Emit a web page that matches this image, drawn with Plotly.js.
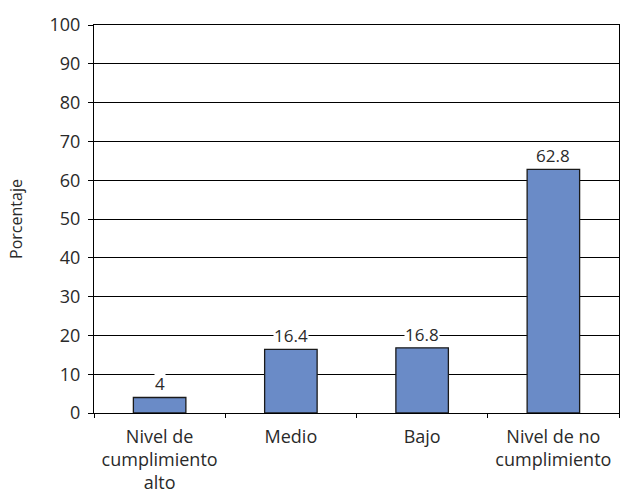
<!DOCTYPE html>
<html><head><meta charset="utf-8">
<script src="https://cdn.plot.ly/plotly-3.0.1.min.js"></script>
<style>html,body{margin:0;padding:0;background:#fff}</style>
</head><body><div id="chart" style="width:620px;height:497px"></div>
<script>
const categories = ["Nivel de<br>cumplimiento<br>alto", "Medio", "Bajo", "Nivel de no<br>cumplimiento"];
const values = [4, 16.4, 16.8, 62.8];
const labels = ["4", "16.4", "16.8", "62.8"];
const yTicks = [0,10,20,30,40,50,60,70,80,90,100];

const fontFam = "'Open Sans', sans-serif";
const txtColor = "#2a2a2a";

const trace = {
  type: "bar", x: categories, y: values,
  marker: {color: "#6a8bc7", line: {color: "#1a1a1a", width: 1.3}},
  width: 0.4, hoverinfo: "none"
};

const annotations = values.map((v, i) => ({
  x: categories[i], y: v, text: labels[i], showarrow: false,
  yanchor: "bottom", yshift: 1, bgcolor: "#ffffff", borderpad: 0,
  font: {family: fontFam, size: 17, color: txtColor}
}));

const layout = {
  width: 620, height: 497,
  margin: {l: 94, r: 1, t: 25, b: 84},
  paper_bgcolor: "#fff", plot_bgcolor: "#fff",
  showlegend: false,
  font: {family: fontFam, size: 17, color: txtColor},
  xaxis: {
    tickson: "boundaries", ticks: "outside", ticklen: 4, tickcolor: "#000",
    showline: true, linecolor: "#000", linewidth: 1, mirror: true,
    showgrid: false, fixedrange: true, ticklabelstandoff: 7,
    tickfont: {family: fontFam, size: 18, color: txtColor}
  },
  yaxis: {
    range: [0, 100], tickvals: yTicks, ticks: "outside", ticklen: 5, tickcolor: "#000",
    showline: true, linecolor: "#000", linewidth: 1, mirror: true,
    showgrid: true, gridcolor: "#000", gridwidth: 1, zeroline: false,
    ticklabelstandoff: 4,
    tickfont: {family: fontFam, size: 18, color: txtColor},
    title: {text: "Porcentaje", standoff: 22, font: {family: fontFam, size: 16, color: txtColor}}
  },
  annotations: annotations
};

Plotly.newPlot("chart", [trace], layout, {displayModeBar: false, staticPlot: true});
</script></body></html>
